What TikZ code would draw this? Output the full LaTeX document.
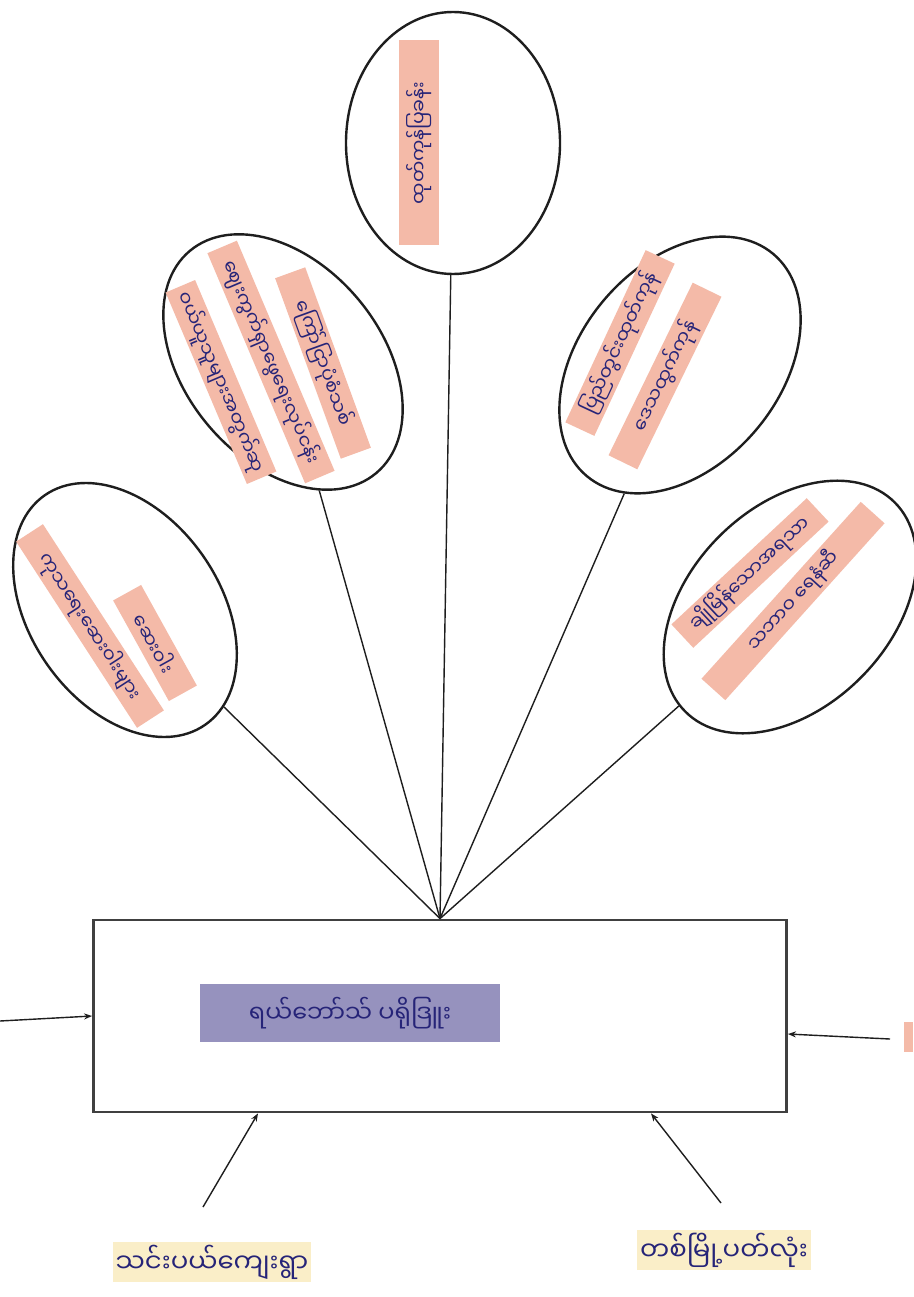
\documentclass[tikz,border=0pt]{standalone}
\usepackage{fontspec}
\newfontfamily\mm[Script=Myanmar]{Noto Sans Myanmar UI}
\usetikzlibrary{shapes.geometric,arrows.meta}
\definecolor{ink}{RGB}{38,36,120}
\definecolor{hlpink}{RGB}{244,186,168}
\definecolor{hlpurple}{RGB}{150,146,190}
\definecolor{hlyellow}{RGB}{250,238,200}
\definecolor{pen}{RGB}{30,30,30}
\begin{document}
\begin{tikzpicture}[x=1pt,y=-1pt,
  bubble/.style={draw=pen, line width=2.4pt, ellipse, inner sep=0pt},
  hl/.style={fill=hlpink, text=ink, font=\mm\fontsize{19}{22}\selectfont, minimum height=32pt, inner sep=2pt},
  spoke/.style={draw=pen, line width=1.4pt},
  feed/.style={draw=pen, line width=1.4pt, -{Stealth[length=8pt,width=6pt]}},
  lbl/.style={fill=hlyellow, text=ink, font=\mm\fontsize{26}{30}\selectfont, inner sep=3pt}]
\useasboundingbox (0,0) rectangle (913,1297);
\fill[white] (0,0) rectangle (913,1297);

% central box
\node[draw=pen!85, line width=2.8pt, minimum width=693pt, minimum height=192pt] (box) at (440,1016) {};
\node[fill=hlpurple, text=ink, font=\mm\fontsize{24}{28}\selectfont, minimum width=300pt, minimum height=58pt] (core) at (350,1013) {ရယ်ဘော်သ် ပရိုဒြူး};

% bubbles
\node[bubble, minimum width=214pt, minimum height=262pt] (e0) at (453,143) {};
\node[bubble, minimum width=290pt, minimum height=196pt, rotate=-50] (e1) at (283,362) {};
\node[bubble, minimum width=290pt, minimum height=200pt, rotate=50] (e2) at (680,365) {};
\node[bubble, minimum width=280pt, minimum height=190pt, rotate=-55] (e3) at (125,610) {};
\node[bubble, minimum width=296pt, minimum height=200pt, rotate=45] (e4) at (790,607) {};

% bubble texts
\node[hl, minimum width=205pt, minimum height=40pt, rotate=90] (t0) at (419,143) {ထုတ်ကုန်ပြခန်း};
\node[hl, minimum width=192pt, rotate=-70] (t1a) at (323,363) {ကြော်ငြာပုံစံသစ်};
\node[hl, minimum width=250pt, rotate=-67] (t1b) at (271,362) {ဈေးကွက်ရှာဖွေရေးလုပ်ငန်း};
\node[hl, minimum width=208pt, rotate=-67] (t1c) at (221,382) {ဝယ်ယူသူများအတွက်ဆု};
\node[hl, minimum width=190pt, rotate=65] (t2a) at (620,343) {ပြည်တွင်းထုတ်ကုန်};
\node[hl, minimum width=192pt, rotate=64] (t2b) at (665,376) {ဒေသထွက်ကုန်};
\node[hl, minimum width=222pt, rotate=-57] (t3a) at (90,626) {ကုသရေးဆေးဝါးများ};
\node[hl, minimum width=115pt, rotate=-61] (t3b) at (155,643) {ဆေးဝါး};
\node[hl, minimum width=185pt, rotate=43] (t4a) at (750,573) {ချိုမြိန်သောအရသာ};
\node[hl, minimum width=238pt, rotate=48] (t4b) at (793,601) {သဘာဝ ရေနံဆီ};

% spokes
\foreach \e in {e0,e1,e2,e3,e4} \draw[spoke] (\e) -- (box.north);

% side feeds
\coordinate (lin) at (0,1021);
\draw[feed] (lin) -- (box.west);
\coordinate (rin) at (890,1039);
\draw[feed] (rin) -- ([yshift=-18pt]box.east);
\fill[hlpink] (904,1022) rectangle (913,1052);

% bottom feeds
\node[lbl] (bl) at (212,1262) {သင်းပယ်ကျေးရွာ};
\node[lbl] (br) at (724,1250) {တစ်မြို့ပတ်လုံး};
\coordinate (blin) at (203,1207);
\coordinate (brin) at (721,1203);
\draw[feed] (blin) -- ([xshift=-182pt]box.south);
\draw[feed] (brin) -- ([xshift=211pt]box.south);
\end{tikzpicture}
\end{document}
